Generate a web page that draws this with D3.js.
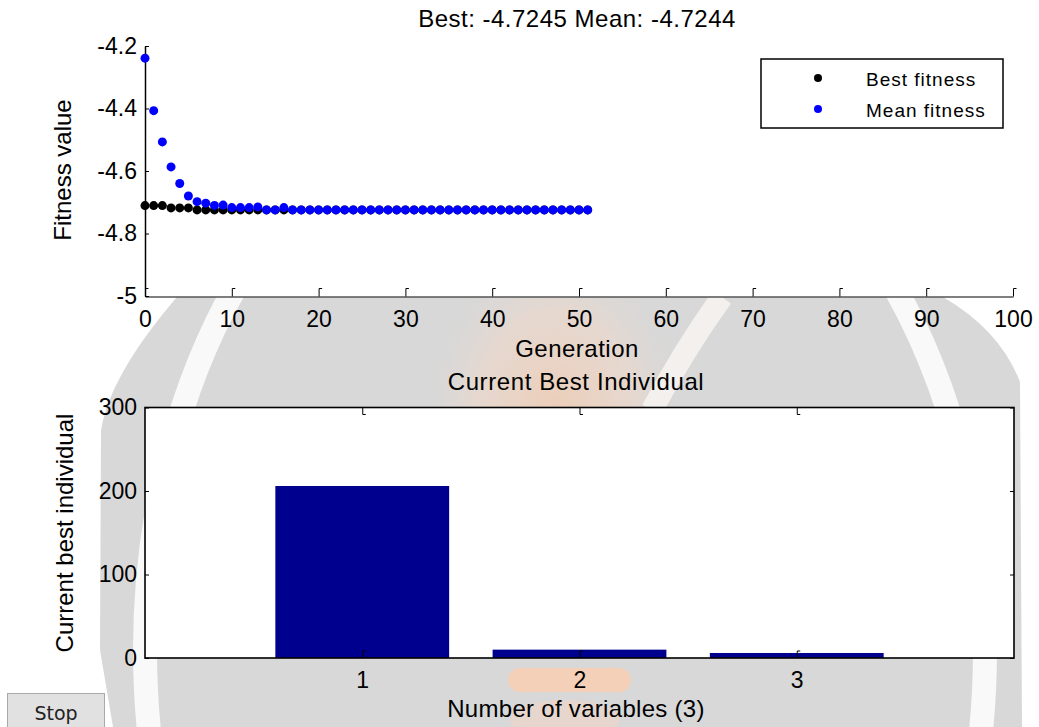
<!DOCTYPE html>
<html>
<head>
<meta charset="utf-8">
<script src="https://cdn.jsdelivr.net/npm/d3@7"></script>
<style>
  body { margin: 0; background: #fff; }
  svg text { font-family: "Liberation Sans", Arial, sans-serif; fill: #000; }
</style>
</head>
<body>
<div id="chart"></div>
<script>
// values
var generations = [0,1,2,3,4,5,6,7,8,9,10,11,12,13,14,15,16,17,18,19,20,21,22,23,24,25,
                   26,27,28,29,30,31,32,33,34,35,36,37,38,39,40,41,42,43,44,45,46,47,48,49,50,51];
var bestFitness = [-4.7107,-4.7107,-4.7107,-4.718,-4.718,-4.718,-4.7245,-4.7245,-4.7245,-4.7245,
                   -4.7245,-4.7245,-4.7245,-4.7245,-4.7245,-4.7245,-4.7245,-4.7245,-4.7245,-4.7245,
                   -4.7245,-4.7245,-4.7245,-4.7245,-4.7245,-4.7245,-4.7245,-4.7245,-4.7245,-4.7245,
                   -4.7245,-4.7245,-4.7245,-4.7245,-4.7245,-4.7245,-4.7245,-4.7245,-4.7245,-4.7245,
                   -4.7245,-4.7245,-4.7245,-4.7245,-4.7245,-4.7245,-4.7245,-4.7245,-4.7245,-4.7245,
                   -4.7245,-4.7245];
var meanFitness = [-4.239,-4.407,-4.507,-4.587,-4.640,-4.680,-4.698,-4.703,-4.710,-4.709,
                   -4.717,-4.717,-4.717,-4.715,-4.7244,-4.7244,-4.717,-4.7244,-4.7244,-4.7244,
                   -4.7244,-4.7244,-4.7244,-4.7244,-4.7244,-4.7244,-4.7244,-4.7244,-4.7244,-4.7244,
                   -4.7244,-4.7244,-4.7244,-4.7244,-4.7244,-4.7244,-4.7244,-4.7244,-4.7244,-4.7244,
                   -4.7244,-4.7244,-4.7244,-4.7244,-4.7244,-4.7244,-4.7244,-4.7244,-4.7244,-4.7244,
                   -4.7244,-4.7244];
var genTicks = [0,10,20,30,40,50,60,70,80,90,100];
var fitTicks = [-5,-4.8,-4.6,-4.4,-4.2];
var legendLabels = ['Best fitness', 'Mean fitness'];
var legendColors = ['#000000', '#0000ff'];

var variables = [1,2,3];
var bestIndividual = [206, 10, 6];
var indivTicks = [0,100,200,300];

var W = 1039, H = 727;
var svg = d3.select('#chart').append('svg')
  .attr('width', W).attr('height', H);

// ---- faint watermark behind the figure ----
var defs = svg.append('defs');
var grad = defs.append('radialGradient').attr('id', 'peach');
grad.append('stop').attr('offset', '0%').attr('stop-color', '#f2caae').attr('stop-opacity', 0.8);
grad.append('stop').attr('offset', '60%').attr('stop-color', '#efd8ca').attr('stop-opacity', 0.6);
grad.append('stop').attr('offset', '100%').attr('stop-color', '#d8d8d8').attr('stop-opacity', 0);

var wm = svg.append('g');
wm.append('path')
  .attr('d', 'M177,297 L943,297 Q1000,330 1020,382 L1022,727 L113,727 L100,650 L101,430 Q110,375 177,297 Z')
  .attr('fill', '#d8d8d8');
wm.append('ellipse').attr('cx', 555).attr('cy', 420).attr('rx', 135).attr('ry', 180)
  .attr('fill', 'url(#peach)');
wm.append('ellipse').attr('cx', 565).attr('cy', 650).attr('rx', 420).attr('ry', 585)
  .attr('fill', 'none').attr('stroke', '#f9f9f9').attr('stroke-width', 24);
wm.append('path').attr('d', 'M722,297 Q684,350 652,410')
  .attr('fill', 'none').attr('stroke', '#f3f0ee').attr('stroke-width', 22);
wm.append('rect').attr('x', 508).attr('y', 668).attr('width', 123).attr('height', 24).attr('rx', 12)
  .attr('fill', '#f4d0b8');
wm.append('ellipse').attr('cx', 565).attr('cy', 720).attr('rx', 55).attr('ry', 20)
  .attr('fill', '#edd6c9').attr('opacity', 0.7);

// ---- top axes: fitness per generation ----
var x1 = d3.scaleLinear().domain([0, 100]).range([145, 1013]);
var y1 = d3.scaleLinear().domain([-5, -4.2]).range([296, 46]);

svg.append('rect').attr('x', 145).attr('y', 46).attr('width', 868).attr('height', 250.5)
  .attr('fill', '#fff');

var gx1 = svg.append('g').attr('transform', 'translate(0,296.5)')
  .call(d3.axisBottom(x1).tickValues(genTicks).tickSize(-8).tickSizeOuter(0)
    .tickPadding(14).tickFormat(function (d) { return String(d); }));
gx1.select('.domain').attr('stroke', '#555').attr('stroke-width', 1.5);
gx1.selectAll('.tick line').attr('stroke', '#000');
gx1.selectAll('.tick').append('line')
  .attr('x1', 0).attr('x2', 3).attr('y1', -8).attr('y2', -8).attr('stroke', '#000');
gx1.selectAll('text').style('font-size', '23px');

var gy1 = svg.append('g').attr('transform', 'translate(145,0)')
  .call(d3.axisLeft(y1).tickValues(fitTicks).tickSize(-4).tickSizeOuter(0)
    .tickPadding(8).tickFormat(function (d) { return String(d); }));
gy1.select('.domain').attr('stroke', '#000').attr('stroke-width', 1.5);
gy1.selectAll('text').style('font-size', '23px');

svg.append('g').selectAll('circle').data(generations)
  .enter().append('circle')
  .attr('cx', function (d) { return x1(d); })
  .attr('cy', function (d, i) { return y1(bestFitness[i]); })
  .attr('r', 4.5).attr('fill', '#000');

svg.append('g').selectAll('circle').data(generations)
  .enter().append('circle')
  .attr('cx', function (d) { return x1(d); })
  .attr('cy', function (d, i) { return y1(meanFitness[i]); })
  .attr('r', 4.5).attr('fill', '#0000ff');

svg.append('text').attr('x', 577).attr('y', 27).attr('text-anchor', 'middle')
  .style('font-size', '24px').style('letter-spacing', '0.5px')
  .text('Best: -4.7245 Mean: -4.7244');

svg.append('text').attr('transform', 'translate(71,170) rotate(-90)').attr('text-anchor', 'middle')
  .style('font-size', '24px').text('Fitness value');

svg.append('text').attr('x', 577).attr('y', 357).attr('text-anchor', 'middle')
  .style('font-size', '24px').style('letter-spacing', '0.5px').text('Generation');

// legend
var leg = svg.append('g');
leg.append('rect').attr('x', 761).attr('y', 59).attr('width', 242).attr('height', 69)
  .attr('fill', '#fff').attr('stroke', '#000').attr('stroke-width', 1.5);
leg.selectAll('circle').data(legendLabels).enter().append('circle')
  .attr('cx', 818).attr('cy', function (d, i) { return 78 + i * 31; })
  .attr('r', 4).attr('fill', function (d, i) { return legendColors[i]; });
leg.selectAll('text').data(legendLabels).enter().append('text')
  .attr('x', 866).attr('y', function (d, i) { return 85.5 + i * 31; })
  .style('font-size', '19px').style('letter-spacing', '1px')
  .text(function (d) { return d; });

// ---- bottom axes: current best individual ----
var x2 = d3.scaleLinear().domain([0, 4]).range([145, 1014]);
var y2 = d3.scaleLinear().domain([0, 300]).range([658, 407.5]);

svg.append('rect').attr('x', 145).attr('y', 407.5).attr('width', 869).attr('height', 250.5)
  .attr('fill', '#fff');

svg.append('g').selectAll('rect').data(variables).enter().append('rect')
  .attr('x', function (d) { return x2(d - 0.4); })
  .attr('width', function (d) { return x2(d + 0.4) - x2(d - 0.4); })
  .attr('y', function (d, i) { return y2(bestIndividual[i]); })
  .attr('height', function (d, i) { return y2(0) - y2(bestIndividual[i]); })
  .attr('fill', '#00008e');

var gx2 = svg.append('g').attr('transform', 'translate(0,658)')
  .call(d3.axisBottom(x2).tickValues(variables).tickSize(-7).tickSizeOuter(0)
    .tickPadding(14).tickFormat(function (d) { return String(d); }));
gx2.select('.domain').remove();
gx2.selectAll('.tick').append('line')
  .attr('x1', 0).attr('x2', 3).attr('y1', -7).attr('y2', -7).attr('stroke', '#000');
gx2.selectAll('text').style('font-size', '23px');

var gt2 = svg.append('g').attr('transform', 'translate(0,407.5)')
  .call(d3.axisTop(x2).tickValues(variables).tickSize(-7).tickSizeOuter(0).tickFormat(''));
gt2.select('.domain').remove();
gt2.selectAll('.tick').append('line')
  .attr('x1', 0).attr('x2', 3).attr('y1', 7).attr('y2', 7).attr('stroke', '#000');

var gy2 = svg.append('g').attr('transform', 'translate(145,0)')
  .call(d3.axisLeft(y2).tickValues(indivTicks).tickSize(-4).tickSizeOuter(0)
    .tickPadding(8).tickFormat(function (d) { return String(d); }));
gy2.select('.domain').remove();
gy2.selectAll('text').style('font-size', '23px');

var gr2 = svg.append('g').attr('transform', 'translate(1014,0)')
  .call(d3.axisRight(y2).tickValues(indivTicks).tickSize(-4).tickSizeOuter(0).tickFormat(''));
gr2.select('.domain').remove();

svg.append('rect').attr('x', 145).attr('y', 407.5).attr('width', 869).attr('height', 250.5)
  .attr('fill', 'none').attr('stroke', '#000').attr('stroke-width', 1.6);

svg.append('text').attr('x', 576).attr('y', 390).attr('text-anchor', 'middle')
  .style('font-size', '24px').style('letter-spacing', '0.6px').text('Current Best Individual');

svg.append('text').attr('transform', 'translate(73,533) rotate(-90)').attr('text-anchor', 'middle')
  .style('font-size', '24px').text('Current best individual');

svg.append('text').attr('x', 576).attr('y', 717).attr('text-anchor', 'middle')
  .style('font-size', '24px').style('letter-spacing', '0.3px').text('Number of variables (3)');

// ---- stop button ----
var btn = svg.append('g');
btn.append('rect').attr('x', 7.5).attr('y', 693.5).attr('width', 97).attr('height', 40)
  .attr('fill', '#e1e1e1').attr('stroke', '#a9a9a9');
btn.append('text').attr('x', 56).attr('y', 720).attr('text-anchor', 'middle')
  .style('font-family', '"DejaVu Sans", sans-serif').style('font-size', '19px').style('fill', '#222')
  .text('Stop');
</script>
</body>
</html>
